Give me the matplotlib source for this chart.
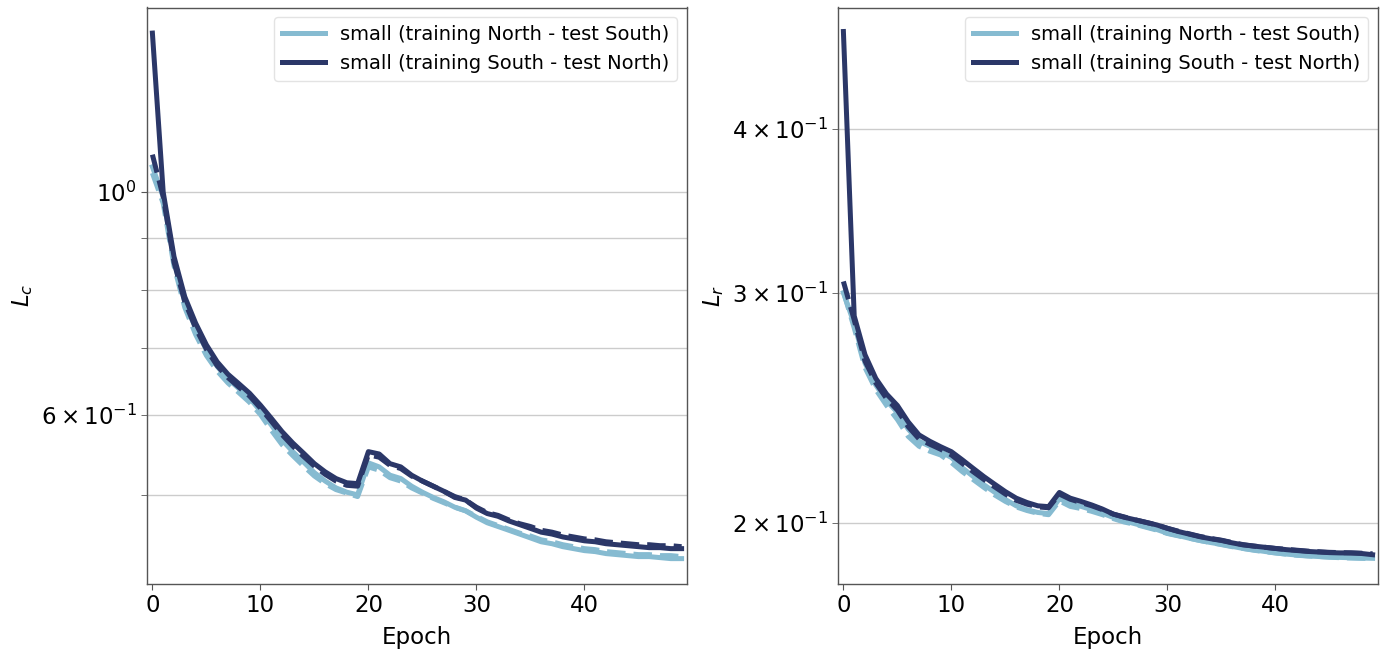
import matplotlib
matplotlib.use("Agg")
import matplotlib.pyplot as plt
import numpy as np

epochs = list(range(50))

# Left panel: L_c
lc_ns_val = [1.06, 0.99, 0.855, 0.778, 0.732, 0.697, 0.671, 0.652, 0.638, 0.624,
             0.606, 0.587, 0.567, 0.552, 0.539, 0.526, 0.516, 0.508, 0.503, 0.500,
             0.538, 0.533, 0.523, 0.519, 0.510, 0.503, 0.497, 0.492, 0.486, 0.482,
             0.475, 0.469, 0.465, 0.461, 0.457, 0.453, 0.449, 0.447, 0.444, 0.442,
             0.440, 0.439, 0.437, 0.436, 0.435, 0.434, 0.434, 0.433, 0.432, 0.432]
lc_ns_train = [1.045, 0.975, 0.845, 0.768, 0.722, 0.688, 0.664, 0.646, 0.632, 0.618,
               0.601, 0.580, 0.561, 0.547, 0.534, 0.522, 0.513, 0.506, 0.502, 0.498,
               0.533, 0.529, 0.520, 0.516, 0.508, 0.502, 0.496, 0.491, 0.486, 0.482,
               0.476, 0.470, 0.466, 0.462, 0.458, 0.455, 0.451, 0.449, 0.446, 0.444,
               0.442, 0.441, 0.439, 0.438, 0.437, 0.436, 0.436, 0.435, 0.435, 0.434]
lc_sn_val = [1.44, 1.00, 0.863, 0.787, 0.741, 0.705, 0.678, 0.659, 0.645, 0.631,
             0.614, 0.596, 0.578, 0.563, 0.550, 0.537, 0.527, 0.519, 0.514, 0.513,
             0.552, 0.549, 0.537, 0.533, 0.523, 0.516, 0.510, 0.504, 0.497, 0.494,
             0.485, 0.479, 0.476, 0.471, 0.467, 0.463, 0.459, 0.457, 0.454, 0.452,
             0.450, 0.449, 0.447, 0.446, 0.445, 0.444, 0.443, 0.443, 0.442, 0.442]
lc_sn_train = [1.09, 0.99, 0.852, 0.778, 0.733, 0.698, 0.672, 0.654, 0.640, 0.627,
               0.610, 0.592, 0.574, 0.559, 0.546, 0.534, 0.524, 0.516, 0.511, 0.510,
               0.548, 0.545, 0.535, 0.531, 0.522, 0.516, 0.510, 0.504, 0.498, 0.494,
               0.486, 0.480, 0.477, 0.472, 0.468, 0.465, 0.461, 0.459, 0.456, 0.454,
               0.452, 0.451, 0.449, 0.448, 0.447, 0.446, 0.446, 0.445, 0.445, 0.444]

# Right panel: L_r
lr_ns_val = [0.300, 0.284, 0.265, 0.255, 0.248, 0.243, 0.236, 0.231, 0.229, 0.2268,
             0.2245, 0.2205, 0.2172, 0.2140, 0.2112, 0.2085, 0.2062, 0.2048, 0.2038, 0.2034,
             0.2088, 0.2070, 0.2060, 0.2048, 0.2035, 0.2020, 0.2008, 0.1998, 0.1988, 0.1978,
             0.1965, 0.1957, 0.1948, 0.1940, 0.1933, 0.1927, 0.1920, 0.1913, 0.1908, 0.1903,
             0.1898, 0.1894, 0.1891, 0.1888, 0.1886, 0.1884, 0.1883, 0.1882, 0.1881, 0.1880]
lr_ns_train = [0.3006, 0.282, 0.263, 0.253, 0.246, 0.240, 0.233, 0.229, 0.227, 0.2255,
               0.2225, 0.2190, 0.2160, 0.2130, 0.2102, 0.2078, 0.2058, 0.2045, 0.2035, 0.2030,
               0.2080, 0.2060, 0.2052, 0.2042, 0.2030, 0.2016, 0.2004, 0.1996, 0.1986, 0.1976,
               0.1964, 0.1956, 0.1948, 0.1940, 0.1933, 0.1926, 0.1919, 0.1913, 0.1907, 0.1902,
               0.1898, 0.1894, 0.1890, 0.1888, 0.1886, 0.1884, 0.1882, 0.1881, 0.1880, 0.1879]
lr_sn_val = [0.475, 0.288, 0.269, 0.258, 0.251, 0.246, 0.239, 0.2336, 0.231, 0.2288,
             0.2268, 0.2236, 0.2203, 0.2171, 0.2142, 0.2114, 0.2090, 0.2074, 0.2062, 0.2059,
             0.2111, 0.2090, 0.2078, 0.2065, 0.2050, 0.2032, 0.2021, 0.2012, 0.2003, 0.1994,
             0.1982, 0.1971, 0.1962, 0.1953, 0.1946, 0.1940, 0.1932, 0.1925, 0.1921, 0.1917,
             0.1913, 0.1909, 0.1906, 0.1903, 0.1901, 0.1899, 0.1898, 0.1898, 0.1896, 0.1892]
lr_sn_train = [0.306, 0.286, 0.266, 0.256, 0.249, 0.244, 0.237, 0.232, 0.2298, 0.2278,
               0.2255, 0.2222, 0.2190, 0.2160, 0.2132, 0.2105, 0.2082, 0.2068, 0.2058, 0.2055,
               0.2105, 0.2086, 0.2074, 0.2062, 0.2048, 0.2032, 0.2022, 0.2012, 0.2003, 0.1994,
               0.1982, 0.1972, 0.1963, 0.1954, 0.1947, 0.1941, 0.1933, 0.1926, 0.1921, 0.1917,
               0.1913, 0.1910, 0.1907, 0.1904, 0.1902, 0.1900, 0.1899, 0.1898, 0.1897, 0.1895]

labels = ["small (training North - test South)", "small (training South - test North)"]
c_light = "#86bbd1"
c_dark = "#2b3768"

plt.rcParams["font.family"] = ["DejaVu Sans"]
fig = plt.figure(figsize=(13.84, 6.51), dpi=100)

W, H = 1384, 651
ax1 = fig.add_axes([147 / W, 1 - 584 / H, 540 / W, (584 - 7.5) / H])
ax2 = fig.add_axes([838 / W, 1 - 584 / H, 540 / W, (584 - 7.5) / H])

panels = [
    (ax1, lc_ns_val, lc_ns_train, lc_sn_val, lc_sn_train, r"$L_c$", (0.4076, 1.527)),
    (ax2, lr_ns_val, lr_ns_train, lr_sn_val, lr_sn_train, r"$L_r$", (0.1797, 0.4955)),
]

lw = 3.6
for ax, nsv, nst, snv, snt, ylab, ylim in panels:
    ax.plot(epochs, nsv, color=c_light, lw=lw, label=labels[0])
    ax.plot(epochs, nst, color=c_light, lw=lw, ls="--")
    ax.plot(epochs, snv, color=c_dark, lw=lw, label=labels[1])
    ax.plot(epochs, snt, color=c_dark, lw=lw, ls="--")
    ax.set_yscale("log")
    ax.set_xlim(-0.5, 49.5)
    ax.set_ylim(*ylim)
    ax.set_xticks([0, 10, 20, 30, 40])
    ax.grid(True, axis="y", which="both", color="#cccccc", lw=1)
    ax.set_axisbelow(True)
    ax.set_xlabel("Epoch", fontsize=16.5, labelpad=6)
    ax.set_ylabel(ylab, fontsize=16.5)
    ax.tick_params(axis="both", which="both", labelsize=16.5, color="#555555", length=4)
    for s in ax.spines.values():
        s.set_color("#555555")
        s.set_linewidth(1)
    ax.legend(loc="upper right", fontsize=14, handlelength=2.2, framealpha=0.8,
              edgecolor="#dddddd")

fig.savefig("out.png", dpi=100)
